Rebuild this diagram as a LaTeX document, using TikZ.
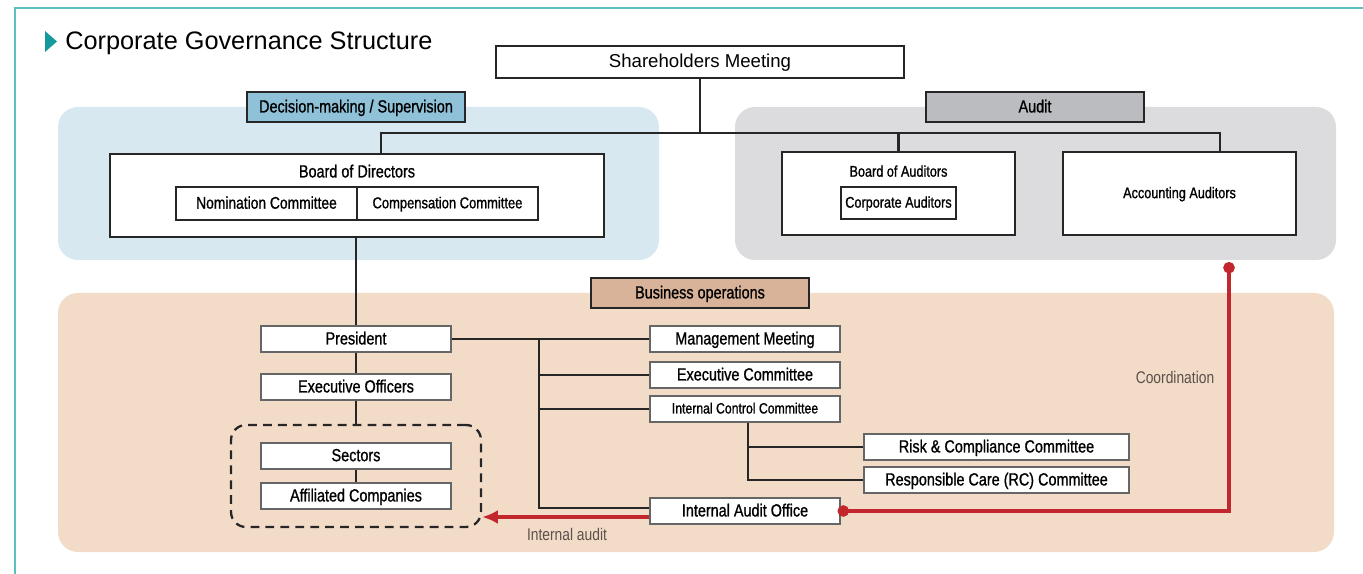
\documentclass[tikz,border=0pt]{standalone}
\usepackage{fontspec}
\setmainfont{Liberation Sans}
\newfontfamily\cond[FakeStretch=0.82,FakeBold=1]{Liberation Sans}
\newfontfamily\condlight[FakeStretch=0.82]{Liberation Sans}
\usetikzlibrary{positioning,calc,arrows.meta}

\definecolor{frameteal}{HTML}{5CC0C0}
\definecolor{arrowteal}{HTML}{16999A}
\definecolor{decbg}{HTML}{D7E8F1}
\definecolor{dechead}{HTML}{8FC2D9}
\definecolor{audbg}{HTML}{DCDCDE}
\definecolor{audhead}{HTML}{BBBCBF}
\definecolor{busbg}{HTML}{F2DCC8}
\definecolor{bushead}{HTML}{D8B39A}
\definecolor{auditred}{HTML}{C1272D}
\definecolor{notegray}{HTML}{5B504B}

\tikzset{
	font=\cond\fontsize{10}{12}\selectfont,
	every node/.append style={text depth=0.2ex},
	bigbox/.style={draw=black!85, line width=1pt, fill=white, inner sep=0pt},
	unit/.style={draw=black!60, line width=0.7pt, fill=white, inner sep=0pt,
		minimum width=3.8cm, minimum height=0.52cm},
	head/.style={draw=black!85, line width=1.4pt, inner sep=0pt,
		minimum width=4.36cm, minimum height=0.6cm},
	link/.style={draw=black!85, line width=1.6pt},
	redlink/.style={draw=auditred, line width=2pt},
	note/.style={text=notegray, font=\condlight\fontsize{9.6}{11}\selectfont},
	small/.style={font=\cond\fontsize{8.8}{10}\selectfont}
}

\begin{document}
\begin{tikzpicture}[x=0.02cm, y=-0.02cm]
	\useasboundingbox (0,0) rectangle (1363,574);
	% frame and title
	\draw[frameteal, line width=0.8pt] (15,574) -- (15,8) -- (1363,8);
	\fill[arrowteal] (45,31) -- (57,41.5) -- (45,52) -- cycle;
	\node[anchor=west, inner sep=0pt, font=\fontsize{14.4}{16}\selectfont] (title) at (65,42) {Corporate Governance Structure};

	% background areas
	\fill[decbg, rounded corners=0.4cm] (58,107) rectangle (659,260);
	\fill[audbg, rounded corners=0.4cm] (735,107) rectangle (1336,260);
	\fill[busbg, rounded corners=0.4cm] (58,293) rectangle (1334,552);

	\node[head, fill=dechead] (dec) at (356,107) {Decision-making / Supervision};
	\node[head, fill=audhead] (aud) at (1035,107) {Audit};
	\node[head, fill=bushead] (bus) at (700,293) {Business operations};

	% top level
	\node[bigbox, minimum width=8.16cm, minimum height=0.64cm, font=\fontsize{10.6}{12}\selectfont] (sm) at (700,62) {Shareholders Meeting};

	\node[bigbox, minimum width=9.88cm, minimum height=1.66cm] (bod) at (357,195.5) {};
	\node (bodl) at (357,172) {Board of Directors};
	\node[bigbox, minimum width=3.62cm, minimum height=0.66cm, font=\cond\fontsize{9.6}{11}\selectfont] (nom) at (266.5,203.5) {Nomination Committee};
	\node[bigbox, minimum width=3.62cm, minimum height=0.66cm, font=\cond\fontsize{9}{11}\selectfont] (comp) at (447.5,203.5) {Compensation Committee};

	\node[bigbox, minimum width=4.66cm, minimum height=1.66cm] (boa) at (898.5,193.5) {};
	\node[small] (boal) at (898.5,172) {Board of Auditors};
	\node[bigbox, small, minimum width=2.3cm, minimum height=0.64cm] (ca) at (898.5,203) {Corporate Auditors};
	\node[bigbox, small, minimum width=4.66cm, minimum height=1.66cm] (acc) at (1179.5,193.5) {Accounting Auditors};

	\coordinate (jl) at (381,133);
	\coordinate (jr) at (1220,133);
	\draw[link] (sm.south) -- (sm.south |- jl);
	\draw[link] (jl |- bod.north) -- (jl) -- (jr) -- (jr |- acc.north);
	\draw[link] (boa.north) -- (boa.north |- jl);

	% business operations
	\node[unit] (pres) at (356,339) {President};
	\node[unit] (eo) at (356,387) {Executive Officers};
	\node[draw=black!85, line width=1.3pt, dash pattern=on 5pt off 3.5pt, rounded corners=0.3cm,
		minimum width=5cm, minimum height=2.04cm] (grp) at (356,476) {};
	\node[unit] (sec) at (356,456) {Sectors};
	\node[unit] (aff) at (356,496) {Affiliated Companies};

	\node[unit] (mm) at (745,339) {Management Meeting};
	\node[unit] (ec) at (745,375) {Executive Committee};
	\node[unit, font=\cond\fontsize{8.5}{10}\selectfont] (icc) at (745,409) {Internal Control Committee};
	\node[unit] (iao) at (745,511) {Internal Audit Office};
	\node[unit, minimum width=5.3cm] (risk) at (996.5,447) {Risk \& Compliance Committee};
	\node[unit, minimum width=5.3cm] (rc) at (996.5,480) {Responsible Care (RC) Committee};

	\draw[link] (pres.north |- bod.south) -- (pres.north);
	\draw[link] (pres) -- (eo);
	\draw[link] (eo.south) -- (grp.north);
	\draw[link] (sec) -- (aff);

	\coordinate (bus) at (539,339);
	\draw[link] (pres.east) -- (mm.west);
	\draw[link] (bus) |- ([yshift=0.06cm]iao.west);
	\draw[link] (bus |- ec.west) -- (ec.west);
	\draw[link] (bus |- icc.west) -- (icc.west);
	\draw[link] ([xshift=0.06cm]icc.south) |- (rc.west);
	\draw[link] ([xshift=0.06cm]icc.south |- risk.west) -- (risk.west);

	% audit links
	\coordinate (co) at (1229,262);
	\draw[redlink, {Circle[length=6.5pt]}-{Circle[length=6.5pt]}] ([xshift=-0.06cm]iao.east) -| (co);
	\draw[redlink, -{Latex[length=9pt, width=8pt]}] ([yshift=-0.12cm]iao.west) -- ([yshift=-0.12cm]iao.west -| grp.east);
	\node[note] (coord) at (1175,378) {Coordination};
	\node[note] (ia) at (567,535) {Internal audit};
\end{tikzpicture}
\end{document}
